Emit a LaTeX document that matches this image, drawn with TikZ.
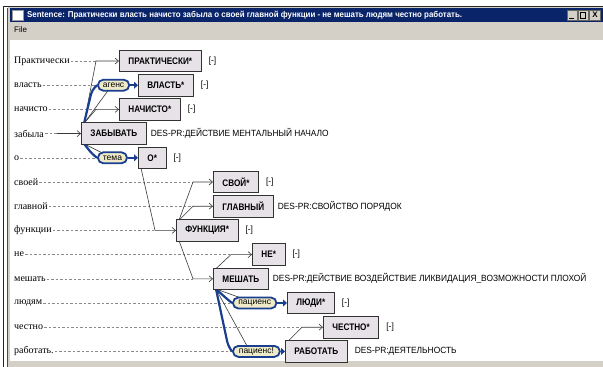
\documentclass[tikz,border=0pt]{standalone}
\usepackage{fontspec}
\setmainfont{Liberation Serif}
\newfontfamily\sansf{Liberation Sans}
\newfontfamily\narrowf[FakeStretch=0.86]{Liberation Sans}
\newfontfamily\notef[FakeStretch=0.93]{Liberation Sans}
\newfontfamily\titlef[FakeStretch=0.93]{Liberation Sans}
\usetikzlibrary{arrows.meta,shapes.misc,calc}
\definecolor{titlenavy}{HTML}{0A246A}
\definecolor{linknavy}{HTML}{1B3F8F}
\definecolor{pillfill}{HTML}{EFEBC9}
\definecolor{boxfill}{HTML}{E6E2E8}
\definecolor{wingray}{HTML}{D4D0C8}
\definecolor{dotgray}{HTML}{8A8A8A}
\definecolor{thinline}{HTML}{3A3A3A}
\pgfdeclarelayer{chrome}
\pgfdeclarelayer{bg}
\pgfsetlayers{chrome,bg,main}
\tikzset{
  wbox/.style={draw=black!80, fill=boxfill, line width=0.9pt, minimum height=21.5pt,
    inner xsep=9pt, inner ysep=0pt, anchor=west, font=\narrowf\bfseries\fontsize{9.5}{10}\selectfont},
  wlab/.style={anchor=west, inner sep=1pt, font=\fontsize{10}{11}\selectfont},
  note/.style={anchor=west, inner sep=0pt, font=\notef\fontsize{9}{10}\selectfont},
  pill/.style={rounded rectangle, draw=linknavy, fill=pillfill, line width=1.8pt,
    minimum height=11pt, inner xsep=4.5pt, inner ysep=0pt, anchor=west,
    font=\sansf\fontsize{8.5}{9}\selectfont},
  dotl/.style={draw=dotgray, line width=0.5pt, dash pattern=on 2.5pt off 2pt},
  thinl/.style={draw=thinline, line width=0.6pt},
  thinarr/.style={thinl, -{Straight Barb[length=3.5pt,width=6pt]}},
  thickl/.style={draw=linknavy, line width=2.2pt, line join=round},
  thickarr/.style={draw=linknavy, line width=2.2pt, -{Triangle[length=4pt,width=7pt]}},
}
\begin{document}
\begin{tikzpicture}[x=1pt,y=-1pt]
\useasboundingbox (0,0) rectangle (603,367);
\begin{pgfonlayer}{chrome}
\fill[white] (0,0) rectangle (603,367);
\fill[wingray] (8,6) rectangle (603,367);
\fill[white] (10,40) rectangle (603,361);
\fill[titlenavy] (10,8) rectangle (603,22);
\draw[black!85, line width=1pt] (3,367) -- (3,6) -- (603,6);
\draw[black!70, line width=0.8pt] (7.5,8) -- (7.5,367);
\draw[fill=white, draw=black!40, line width=0.4pt] (12,10) rectangle (23,20);
\end{pgfonlayer}
\node[anchor=west, inner sep=0pt, text=white, font=\titlef\bfseries\fontsize{8.5}{10}\selectfont] (title) at (27,15)
  {Sentence: Практически власть начисто забыла о своей главной функции - не мешать людям честно работать.};
\node[draw=black!60, fill=wingray, minimum width=10pt, minimum height=10pt, inner sep=0pt] (bmin) at (572,15) {};
\node[draw=black!60, fill=wingray, minimum width=10pt, minimum height=10pt, inner sep=0pt] (bmax) at (583,15) {};
\node[draw=black!60, fill=wingray, minimum width=11pt, minimum height=10pt, inner sep=0pt, font=\sansf\bfseries\fontsize{8}{8}\selectfont] (bclose) at (595,15) {X};
\draw[black, line width=1pt] ($(bmin.south west)+(2.5,-2)$) -- ($(bmin.south east)+(-3.5,-2)$);
\draw[black, line width=0.6pt] ($(bmax.south west)+(2.5,-2)$) rectangle ($(bmax.north east)+(-2.5,2)$);
\draw[black, line width=1.2pt] ($(bmax.north west)+(2.5,2.3)$) -- ($(bmax.north east)+(-2.5,2.3)$);
\node[anchor=west, inner sep=0pt, font=\sansf\fontsize{8}{9}\selectfont] (file) at (14,30) {File};

% word labels
\node[wlab] (w0) at (13,61) {Практически};
\node[wlab] (w1) at (13,85.2) {власть};
\node[wlab] (w2) at (13,109.4) {начисто};
\node[wlab] (w3) at (13,133.6) {забыла};
\node[wlab] (w4) at (13,157.8) {о};
\node[wlab] (w5) at (13,182) {своей};
\node[wlab] (w6) at (13,206.2) {главной};
\node[wlab] (w7) at (13,230.4) {функции};
\node[wlab] (w8) at (13,254.6) {не};
\node[wlab] (w9) at (13,278.8) {мешать};
\node[wlab] (w10) at (13,303) {людям};
\node[wlab] (w11) at (13,327.2) {честно};
\node[wlab] (w12) at (13,351.4) {работать.};

% boxes
\node[wbox] (P) at (119,61) {ПРАКТИЧЕСКИ*};
\node[wbox] (V) at (138,85.2) {ВЛАСТЬ*};
\node[wbox] (N) at (119,109.4) {НАЧИСТО*};
\node[wbox] (Z) at (81,133.6) {ЗАБЫВАТЬ};
\node[wbox] (O) at (138,157.8) {О*};
\node[wbox] (S) at (213,182) {СВОЙ*};
\node[wbox] (G) at (213,206.2) {ГЛАВНЫЙ};
\node[wbox] (F) at (176,230.4) {ФУНКЦИЯ*};
\node[wbox] (NE) at (252,254.6) {НЕ*};
\node[wbox] (M) at (213,278.8) {МЕШАТЬ};
\node[wbox] (L) at (287,303) {ЛЮДИ*};
\node[wbox] (CH) at (323,327.2) {ЧЕСТНО*};
\node[wbox] (R) at (285,351.4) {РАБОТАТЬ};

% annotations
\node[note] (nP) at ($(P.east)+(7,0)$) {[-]};
\node[note] (nV) at ($(V.east)+(7,0)$) {[-]};
\node[note] (nN) at ($(N.east)+(7,0)$) {[-]};
\node[note] (nZ) at ($(Z.east)+(4,0)$) {DES-PR:ДЕЙСТВИЕ МЕНТАЛЬНЫЙ НАЧАЛО};
\node[note] (nO) at ($(O.east)+(7,0)$) {[-]};
\node[note] (nS) at ($(S.east)+(7,0)$) {[-]};
\node[note] (nG) at ($(G.east)+(4,0)$) {DES-PR:СВОЙСТВО ПОРЯДОК};
\node[note] (nF) at ($(F.east)+(7,0)$) {[-]};
\node[note] (nNE) at ($(NE.east)+(7,0)$) {[-]};
\node[note] (nM) at ($(M.east)+(4,0)$) {DES-PR:ДЕЙСТВИЕ ВОЗДЕЙСТВИЕ ЛИКВИДАЦИЯ\_ВОЗМОЖНОСТИ ПЛОХОЙ};
\node[note] (nL) at ($(L.east)+(7,0)$) {[-]};
\node[note] (nCH) at ($(CH.east)+(7,0)$) {[-]};
\node[note] (nR) at ($(R.east)+(7,0)$) {DES-PR:ДЕЯТЕЛЬНОСТЬ};

% pills
\node[pill] (pa) at (97,85.2) {агенс};
\node[pill] (pt) at (97,157.8) {тема};
\node[pill] (pp1) at (232,303) {пациенс};
\node[pill] (pp2) at (232,351.4) {пациенс!};

% coordinates
\coordinate (c0) at (96,61);
\coordinate (c1) at (112,85.2);
\coordinate (c2) at (96,109.4);
\coordinate (c3) at (57,133.6);
\coordinate (c4) at (112,157.8);
\coordinate (c5) at (193,182);
\coordinate (c6) at (193,206.2);
\coordinate (c7) at (155,230.4);
\coordinate (c8) at (231,254.6);
\coordinate (c9) at (193,278.8);
\coordinate (c10) at (255,303);
\coordinate (c11) at (302,327.2);
\coordinate (c12) at (250,351.4);
\coordinate (zt) at ($(Z.north west)+(3,1)$);
\coordinate (zb) at ($(Z.south west)+(3,-1)$);
\coordinate (ob) at ($(O.south west)+(3,-1)$);
\coordinate (ft) at ($(F.north west)+(3,1)$);
\coordinate (fb) at ($(F.south west)+(3,-1)$);
\coordinate (mt) at ($(M.north west)+(3,1)$);
\coordinate (mb) at ($(M.south west)+(3,-1)$);
\coordinate (rt) at ($(R.north west)+(3,1)$);
\coordinate (k1) at ($(pa.west)+(-5,5)$);
\coordinate (k2) at ($(pt.west)+(-5,-4)$);
\coordinate (k3) at ($(pp1.west)+(-5,-4)$);
\coordinate (k4) at ($(pp2.west)+(-4,-6)$);

\begin{pgfonlayer}{bg}
% dotted guide lines
\draw[dotl] (w0.east) -- (c0);
\draw[dotl] (w1.east) -- (pa.west);
\draw[dotl] (w2.east) -- (c2);
\draw[dotl] (w3.east) -- (c3);
\draw[dotl] (w4.east) -- (pt.west);
\draw[dotl] (w5.east) -- (c5);
\draw[dotl] (w6.east) -- (c6);
\draw[dotl] (w7.east) -- (c7);
\draw[dotl] (w8.east) -- (c8);
\draw[dotl] (w9.east) -- (c9);
\draw[dotl] (w10.east) -- (pp1.west);
\draw[dotl] (w11.east) -- (c11);
\draw[dotl] (w12.east) -- (pp2.west);
% thin dependency lines
\draw[thinarr] (zt) -- (c0) -- (P.west);
\draw[thinl] (zt) -- (c1);
\draw[thinarr] (zt) -- (c2) -- (N.west);
\draw[thinarr] (c3) -- (Z.west);
\draw[thinl] (zb) -- (c4);
\draw[thinarr] (ob) -- (c7) -- (F.west);
\draw[thinarr] (ft) -- (c5) -- (S.west);
\draw[thinarr] (ft) -- (c6) -- (G.west);
\draw[thinarr] (fb) -- (c9) -- (M.west);
\draw[thinarr] (mt) -- (c8) -- (NE.west);
\draw[thinl] (mb) -- (c10);
\draw[thinl] (mb) -- (c12);
\draw[thinarr] (rt) -- (c11) -- (CH.west);
% thick semantic links
\draw[thickl, rounded corners=4pt] (zt) -- (k1) -- (pa.west);
\draw[thickl, rounded corners=4pt] (zb) -- (k2) -- (pt.west);
\draw[thickl, rounded corners=4pt] (mb) -- (k3) -- (pp1.west);
\draw[thickl, rounded corners=4pt] (mb) -- (k4) -- (pp2.west);
\end{pgfonlayer}
\draw[thickarr] (pa.east) -- (V.west);
\draw[thickarr] (pt.east) -- (O.west);
\draw[thickarr] (pp1.east) -- (L.west);
\draw[thickarr] (pp2.east) -- (R.west);
\end{tikzpicture}
\end{document}
